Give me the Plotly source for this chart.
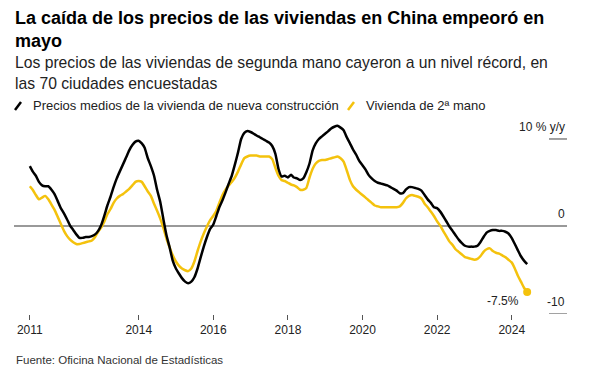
import pandas as pd
import plotly.graph_objects as go

# Month-end observations, Jan 2011 .. May 2024
months = pd.date_range("2011-02-01", periods=161, freq="MS") - pd.Timedelta(days=1)

# Average new-home prices, % y/y
new_home = [
    6.9, 6.3, 5.8, 5.1, 4.7, 4.6, 4.6, 4.2, 3.7, 2.9, 2.1,
    1.5, 0.8, 0.1, -0.4, -0.9, -1.3, -1.3, -1.2, -1.2, -1.1, -0.9, -0.5,
    0.2, 1.3, 2.4, 3.4, 4.5, 5.5, 6.3, 7.1, 7.9, 8.7, 9.3, 9.7,
    9.8, 9.5, 9.0, 7.8, 6.9, 5.8, 4.2, 2.8, 0.8, -1.0, -2.4, -3.9,
    -4.8, -5.4, -5.9, -6.3, -6.5, -6.3, -5.8, -4.8, -3.5, -2.3, -1.2, -0.3,
    0.2, 1.2, 2.2, 3.0, 3.9, 4.9, 5.8, 7.1, 8.5, 10.0, 10.7, 10.9,
    10.8, 10.6, 10.4, 10.2, 10.0, 9.8, 9.6, 9.2, 8.3, 6.6, 5.7, 5.8,
    5.6, 5.9, 5.6, 5.5, 5.3, 5.5, 6.2, 7.2, 8.7, 9.5, 10.0, 10.3,
    10.6, 10.9, 11.2, 11.4, 11.5, 11.3, 11.0, 10.2, 9.5, 8.8, 8.2, 7.5,
    7.0, 6.5, 5.9, 5.5, 5.2, 5.0, 4.9, 4.8, 4.7, 4.5, 4.3, 4.1,
    3.8, 3.8, 4.2, 4.5, 4.5, 4.4, 4.3, 4.1, 3.6, 3.1, 2.7, 2.2,
    2.1, 1.7, 1.2, 0.6, 0.0, -0.5, -1.0, -1.5, -1.9, -2.2, -2.3, -2.3,
    -2.3, -2.2, -1.8, -1.2, -0.7, -0.5, -0.4, -0.4, -0.5, -0.5, -0.6, -0.8,
    -1.3, -2.0, -2.7, -3.4, -3.9, -4.3,
]

# Second-hand homes, % y/y
second_hand = [
    4.6, 4.2, 3.6, 3.1, 3.3, 3.5, 3.1, 2.5, 1.9, 1.1, 0.3,
    -0.5, -1.1, -1.5, -1.8, -2.0, -2.0, -1.9, -1.8, -1.7, -1.6, -1.2, -0.6,
    -0.1, 0.6, 1.4, 2.0, 2.7, 3.2, 3.5, 3.7, 4.0, 4.3, 4.7, 5.1,
    5.2, 5.1, 4.6, 4.0, 3.5, 2.6, 1.8, 0.9, -0.2, -1.4, -2.4, -3.3,
    -4.0, -4.5, -4.8, -5.0, -5.1, -4.8, -4.0, -2.8, -1.7, -0.8, 0.0, 0.7,
    1.2, 1.8, 2.7, 3.6, 4.2, 4.7, 5.1, 5.6, 6.3, 7.1, 7.8, 8.0,
    8.1, 8.1, 8.1, 8.0, 8.0, 8.0, 8.0, 7.7, 6.7, 5.8, 5.3, 5.2,
    5.0, 4.8, 4.7, 4.5, 4.2, 4.2, 4.4, 5.6, 6.6, 7.2, 7.5, 7.6,
    7.6, 7.7, 7.8, 7.9, 8.0, 7.8, 7.4, 6.4, 5.3, 4.6, 4.2, 3.9,
    3.6, 3.3, 3.0, 2.7, 2.4, 2.3, 2.2, 2.2, 2.2, 2.2, 2.2, 2.2,
    2.3, 2.7, 3.2, 3.5, 3.6, 3.5, 3.4, 3.2, 2.6, 2.2, 1.7, 1.2,
    0.6, 0.1, -0.5, -1.1, -1.7, -2.1, -2.6, -2.9, -3.2, -3.5, -3.6, -3.7,
    -3.8, -3.7, -3.4, -2.9, -2.6, -2.5, -2.8, -3.0, -3.1, -3.3, -3.5, -3.8,
    -4.1, -4.8, -5.6, -6.3, -7.0, -7.5,
]

tick_vals = ["2011-01-31", "2014-01-01", "2016-01-01", "2018-01-01",
             "2020-01-01", "2022-01-01", "2024-01-01"]
tick_text = ["2011", "2014", "2016", "2018", "2020", "2022", "2024"]

y_labels = [(10, "10 % y/y"), (0, "0"), (-10, "-10")]

title_lines = ["La caída de los precios de las viviendas en China empeoró en", "mayo"]
subtitle_lines = ["Los precios de las viviendas de segunda mano cayeron a un nivel récord, en",
                  "las 70 ciudades encuestadas"]
legend_names = ["Precios medios de la vivienda de nueva construcción", "Vivienda de 2ª mano"]
source_text = "Fuente: Oficina Nacional de Estadísticas"

BLACK = "#000000"
YELLOW = "#F4C20D"
FONT = "Liberation Sans, Arial, sans-serif"

# The page body adds an 8px offset; size the figure to fill the rest of the window.
OFF = 8
W, H = 603 - OFF, 380 - OFF
ML, MT = 14 - OFF, 120 - OFF
MR = W - (567 - OFF)
MB = H - (314 - OFF)
PW, PH = W - ML - MR, H - MT - MB


def px(xs):
    """screen x -> paper"""
    return (xs - OFF - ML) / PW


def py(ys):
    """screen y -> paper"""
    return (H - MB - (ys - OFF)) / PH


fig = go.Figure()
fig.add_trace(go.Scatter(x=months, y=second_hand, mode="lines", name=legend_names[1],
                         line=dict(color=YELLOW, width=2.5, shape="spline", smoothing=0.5)))
fig.add_trace(go.Scatter(x=months, y=new_home, mode="lines", name=legend_names[0],
                         line=dict(color=BLACK, width=2.5, shape="spline", smoothing=0.5)))
fig.add_trace(go.Scatter(x=[months[-1]], y=[second_hand[-1]], mode="markers",
                         marker=dict(color=YELLOW, size=8), showlegend=False))

annotations = []
for i, line in enumerate(title_lines):
    annotations.append(dict(text=f"<b>{line}</b>", xref="paper", yref="paper",
                            x=px(13), y=py([18, 41][i]), xanchor="left", yanchor="middle",
                            showarrow=False, font=dict(family=FONT, size=18, color="#000")))
for i, line in enumerate(subtitle_lines):
    annotations.append(dict(text=line, xref="paper", yref="paper",
                            x=px(13), y=py([63, 83][i]), xanchor="left", yanchor="middle",
                            showarrow=False, font=dict(family=FONT, size=15.7, color="#222")))
annotations.append(dict(text=legend_names[0], xref="paper", yref="paper", x=px(31), y=py(105),
                        xanchor="left", yanchor="middle", showarrow=False,
                        font=dict(family=FONT, size=13, color="#222")))
annotations.append(dict(text=legend_names[1], xref="paper", yref="paper", x=px(364), y=py(105),
                        xanchor="left", yanchor="middle", showarrow=False,
                        font=dict(family=FONT, size=13, color="#222")))
for val, lab in y_labels:
    annotations.append(dict(text=lab, xref="paper", yref="y", x=1, y=val, xanchor="right",
                            yanchor="middle", yshift=12, showarrow=False,
                            font=dict(family=FONT, size=12, color="#222")))
annotations.append(dict(text=f"{second_hand[-1]}%", xref="x", yref="y", x=months[-1],
                        y=second_hand[-1], xanchor="center", yanchor="middle",
                        xshift=-24, yshift=-9, showarrow=False,
                        font=dict(family=FONT, size=12, color="#222")))
annotations.append(dict(text=source_text, xref="paper", yref="paper", x=px(14), y=py(360),
                        xanchor="left", yanchor="middle", showarrow=False,
                        font=dict(family=FONT, size=11.5, color="#333")))

shapes = [
    dict(type="line", xref="paper", yref="paper", x0=px(15), y0=py(110), x1=px(21), y1=py(102),
         line=dict(color=BLACK, width=2.5)),
    dict(type="line", xref="paper", yref="paper", x0=px(348), y0=py(110), x1=px(354), y1=py(102),
         line=dict(color=YELLOW, width=2.5)),
]
for val, _ in y_labels:
    if val != 0:
        shapes.append(dict(type="line", xref="paper", yref="y", x0=px(549), x1=1, y0=val, y1=val,
                           line=dict(color="#444", width=1)))

fig.update_layout(
    width=W, height=H, margin=dict(l=ML, r=MR, t=MT, b=MB),
    paper_bgcolor="white", plot_bgcolor="white", showlegend=False,
    annotations=annotations, shapes=shapes,
    xaxis=dict(range=["2010-08-29", "2025-06-25"], tickvals=tick_vals, ticktext=tick_text,
               showgrid=False, zeroline=False, showline=False, ticks="outside", ticklen=5,
               tickwidth=1, tickcolor="#555",
               tickfont=dict(family=FONT, size=12, color="#222")),
    yaxis=dict(range=[-10, 12.17], showgrid=False, showticklabels=False, ticks="",
               zeroline=True, zerolinecolor="#999", zerolinewidth=1.5),
)

fig.write_html("out.html")
